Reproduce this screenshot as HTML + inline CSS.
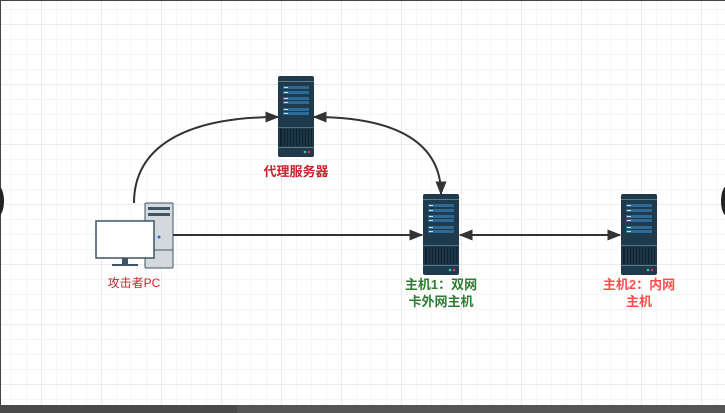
<!DOCTYPE html>
<html><head><meta charset="utf-8"><style>
html,body{margin:0;padding:0;width:725px;height:413px;overflow:hidden;background:#fff;}
.t{position:absolute;font-family:"Liberation Sans","Noto Sans CJK SC",sans-serif;font-size:12px;text-align:center;line-height:17px;}
</style></head><body>
<svg width="725" height="413" style="position:absolute;left:0;top:0">
<defs>
<pattern id="g" x="11" y="9" width="15" height="15" patternUnits="userSpaceOnUse">
<path d="M0 0H15M0 0V15" stroke="#ececec" stroke-width="1" fill="none"/>
</pattern>
<pattern id="G" x="41" y="24" width="60" height="60" patternUnits="userSpaceOnUse">
<path d="M0 0H60M0 0V60" stroke="#e0e0e0" stroke-width="1.2" fill="none"/>
</pattern>
<marker id="a" viewBox="0 0 10 10" refX="9" refY="5" markerWidth="7" markerHeight="7" orient="auto-start-reverse"><path d="M0 1L10 5L0 9z" fill="#333"/></marker>
<g id="srv">
<rect x="0" y="0" width="36" height="81" rx="2" fill="#1f3a4b"/>
<rect x="0" y="5" width="36" height="1" fill="#5b7a8c"/>
<rect x="5" y="10" width="26" height="3" fill="#2d6b96"/>
<rect x="5" y="15" width="26" height="3" fill="#2d6b96"/>
<rect x="5" y="21" width="26" height="3" fill="#2d6b96"/>
<rect x="5" y="25" width="26" height="3" fill="#2d6b96"/>
<rect x="5" y="32" width="26" height="3" fill="#2d6b96"/>
<rect x="5" y="36" width="26" height="3" fill="#2d6b96"/>
<rect x="6" y="11" width="4" height="1" fill="#cde"/><rect x="6" y="16" width="4" height="1" fill="#cde"/>
<rect x="6" y="22" width="4" height="1" fill="#cde"/><rect x="6" y="26" width="4" height="1" fill="#cde"/>
<rect x="6" y="33" width="4" height="1" fill="#cde"/><rect x="6" y="37" width="4" height="1" fill="#cde"/>
<rect x="0" y="51" width="36" height="1" fill="#4d7286"/>
<rect x="2" y="53" width="32" height="17" fill="#0f2230"/>
<path d="M5 53V70M8 53V70M11 53V70M14 53V70M17 53V70M20 53V70M23 53V70M26 53V70M29 53V70M32 53V70" stroke="#2b4a5c" stroke-width="1"/>
<rect x="0" y="71" width="36" height="1" fill="#5b7a8c"/>
<circle cx="27" cy="76" r="1.3" fill="#3c9"/><circle cx="31" cy="76" r="1.3" fill="#d35"/>
</g>
</defs>
<rect width="725" height="413" fill="url(#g)"/>
<rect width="725" height="413" fill="url(#G)"/>
<rect x="0" y="0" width="725" height="1" fill="#444"/>
<rect x="0" y="0" width="1" height="413" fill="#444"/>
<rect x="0" y="405" width="725" height="8" fill="#4a4a4a"/>
<rect x="237" y="405" width="488" height="8" fill="#555"/>
<ellipse cx="-2" cy="201" rx="6" ry="15" fill="#222"/>
<ellipse cx="727" cy="201" rx="6" ry="15" fill="#222"/>

<path d="M134 203C134 150 180 117 278 117" fill="none" stroke="#333" stroke-width="2" marker-end="url(#a)"/>
<path d="M314 117C400 117 441 145 441 194" fill="none" stroke="#333" stroke-width="2" marker-start="url(#a)" marker-end="url(#a)"/>
<path d="M173 235H422" stroke="#333" stroke-width="2" marker-end="url(#a)"/>
<path d="M460 235H620" stroke="#333" stroke-width="2" marker-start="url(#a)" marker-end="url(#a)"/>

<use href="#srv" x="278" y="76"/>
<use href="#srv" x="423" y="194"/>
<use href="#srv" x="621" y="194"/>

<rect x="145" y="203" width="28" height="65" rx="1" fill="#d4d9de" stroke="#3d5566" stroke-width="1"/>
<rect x="148" y="207" width="22" height="3" fill="#3d5566"/>
<rect x="148" y="213" width="22" height="3" fill="#3d5566"/>
<path d="M145 250H173" stroke="#3d5566"/>
<circle cx="159" cy="237" r="1.5" fill="#2b6fd6"/>
<rect x="96" y="221" width="58" height="37" fill="#fff" stroke="#3d5566" stroke-width="1.5"/>
<rect x="122" y="258" width="6" height="6" fill="#3d5566"/>
<rect x="112" y="264" width="26" height="2" fill="#3d5566"/>
</svg>
<div class="t" style="left:246px;top:163px;width:100px;color:#c8242b;font-weight:bold;font-size:13px">代理服务器</div>
<div class="t" style="left:94px;top:275px;width:80px;color:#c8242b">攻击者PC</div>
<div class="t" style="left:396px;top:276px;width:90px;color:#2e7d32;font-weight:bold;font-size:13px">主机1：双网<br>卡外网主机</div>
<div class="t" style="left:594px;top:276px;width:90px;color:#ff4d4d;font-weight:bold;font-size:13px">主机2：内网<br>主机</div>
</body></html>
